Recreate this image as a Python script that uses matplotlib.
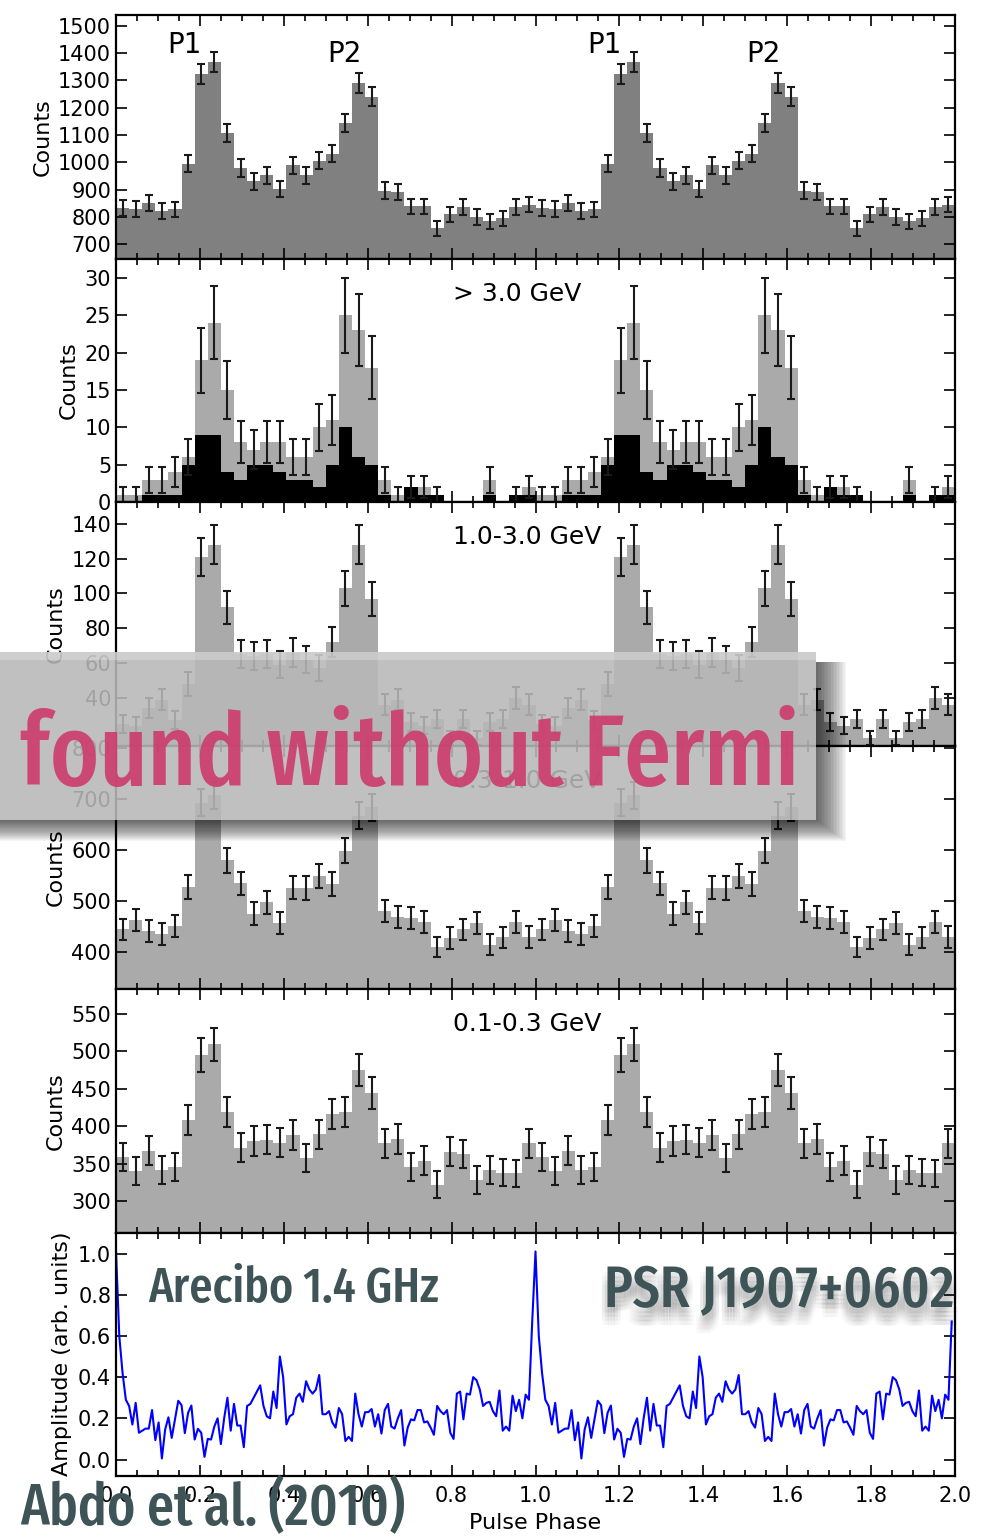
import os
import numpy as np
import matplotlib
matplotlib.use('Agg')
import matplotlib.pyplot as plt
from matplotlib import font_manager as fm
from matplotlib import patheffects as pe
from matplotlib.patches import Rectangle, Polygon
from matplotlib.ticker import MultipleLocator

# 32 phase bins per rotation, the plot shows two rotations
n_bins = 32

# counts per bin
counts_all = [833, 828, 849, 821, 827, 994, 1323, 1368, 1107, 979, 930, 952, 902, 989, 952, 1006,
              1032, 1144, 1291, 1241, 896, 892, 838, 838, 758, 809, 835, 799, 784, 794, 837, 845]
counts_gt3 = [1, 1, 3, 3, 4, 6, 19, 24, 15, 8, 7, 8, 8, 6, 6, 10,
              11, 25, 23, 18, 3, 1, 2, 2, 1, 0, 0, 0, 3, 0, 1, 2]
counts_gt3_black = [0, 0, 1, 1, 1, 5, 9, 9, 4, 3, 5, 5, 4, 3, 3, 2,
                    5, 10, 6, 5, 1, 0, 2, 1, 1, 0, 0, 0, 1, 0, 1, 1]
counts_1_3 = [25, 24, 34, 39, 27, 48, 121, 128, 92, 65, 64, 65, 59, 66, 62, 57,
              72, 103, 128, 97, 36, 39, 26, 24, 28, 17, 28, 17, 26, 28, 40, 36]
counts_03_1 = [444, 463, 441, 435, 450, 527, 692, 707, 579, 534, 475, 497, 457, 526, 525, 549,
               533, 598, 667, 683, 480, 468, 466, 458, 409, 427, 444, 456, 414, 428, 459, 429]
counts_01_03 = [359, 340, 367, 341, 345, 408, 495, 509, 419, 371, 380, 382, 378, 388, 357, 389,
                416, 419, 475, 444, 377, 383, 345, 354, 322, 366, 363, 328, 341, 338, 337, 377]

# Arecibo 1.4 GHz profile, 128 samples per rotation
radio_amp = [1.01, 0.60, 0.42, 0.29, 0.26, 0.17, 0.275, 0.13, 0.14, 0.15,
             0.15, 0.24, 0.094, 0.18, 0.005, 0.146, 0.205, 0.105, 0.194, 0.285,
             0.264, 0.128, 0.227, 0.262, 0.097, 0.149, 0.13, 0.013, 0.10, 0.097,
             0.16, 0.20, 0.075, 0.20, 0.30, 0.14, 0.27, 0.165, 0.165, 0.06,
             0.26, 0.27, 0.30, 0.33, 0.36, 0.26, 0.21, 0.20, 0.33, 0.25,
             0.50, 0.40, 0.17, 0.21, 0.22, 0.30, 0.32, 0.28, 0.38, 0.34,
             0.32, 0.34, 0.41, 0.22, 0.22, 0.235, 0.18, 0.155, 0.25, 0.22,
             0.09, 0.11, 0.09, 0.32, 0.22, 0.16, 0.23, 0.23, 0.245, 0.16,
             0.22, 0.126, 0.24, 0.27, 0.16, 0.15, 0.20, 0.24, 0.068, 0.155,
             0.195, 0.19, 0.24, 0.24, 0.18, 0.185, 0.155, 0.12, 0.26, 0.235,
             0.22, 0.24, 0.13, 0.10, 0.32, 0.33, 0.195, 0.32, 0.315, 0.40,
             0.385, 0.34, 0.26, 0.275, 0.28, 0.235, 0.21, 0.335, 0.14, 0.16,
             0.14, 0.31, 0.235, 0.29, 0.20, 0.315, 0.29, 0.67]

band_labels = ['', '> 3.0 GeV', '1.0-3.0 GeV', '0.3-1.0 GeV', '0.1-0.3 GeV']
peak_labels = ['P1', 'P2', 'P1', 'P2']
peak_phase = [0.164, 0.544, 1.164, 1.544]
peak_y = [1400, 1369, 1400, 1369]

W, H = 985, 1537
plt.rcParams['font.family'] = 'DejaVu Sans'
fig = plt.figure(figsize=(W / 100, H / 100), dpi=100)

edges = np.arange(2 * n_bins + 1) / n_bins
centers = (edges[:-1] + edges[1:]) / 2

# panel geometry in pixels
ax_left, ax_right, ax_top, ax_bot = 116, 955, 15, 1476
ph = (ax_bot - ax_top) / 6
axes = []
for k in range(6):
    y0 = 1 - (ax_top + (k + 1) * ph) / H
    ax = fig.add_axes([ax_left / W, y0, (ax_right - ax_left) / W, ph / H])
    axes.append(ax)

hist_sets = [counts_all, counts_gt3, counts_1_3, counts_03_1, counts_01_03]
ylims = [(647, 1540), (0, 32.6), (12.6, 152.6), (327, 804.5), (258, 583)]
ysteps = [100, 5, 20, 100, 50]
bar_cols = ['#808080', '#aaaaaa', '#aaaaaa', '#aaaaaa', '#aaaaaa']

for k, ax in enumerate(axes[:5]):
    vals = np.tile(np.array(hist_sets[k], dtype=float), 2)
    ax.stairs(vals, edges, fill=True, color=bar_cols[k], baseline=0, lw=0)
    if k == 1:
        blk = np.tile(np.array(counts_gt3_black, dtype=float), 2)
        ax.stairs(blk, edges, fill=True, color='black', baseline=0, lw=0)
    m = vals > 0
    ax.errorbar(centers[m], vals[m], yerr=np.sqrt(vals[m]), fmt='none',
                ecolor='#1a1a1a', elinewidth=1.5, capsize=3.2, capthick=1.5)
    ax.set_ylim(*ylims[k])
    ax.yaxis.set_major_locator(MultipleLocator(ysteps[k]))
    ax.set_ylabel('Counts', fontsize=16)
    if band_labels[k]:
        ax.text(0.402, 0.856, band_labels[k], transform=ax.transAxes,
                ha='left', va='center', fontsize=18)

# lowest tick of the 1.0-3.0 GeV panel sits under the next panel's top label
axes[2].set_yticks(np.arange(40, 141, 20))

for lab, x, y in zip(peak_labels, peak_phase, peak_y):
    axes[0].text(x, y, lab, ha='center', va='baseline', fontsize=20)

# radio profile
rad = axes[5]
phase = np.arange(2 * len(radio_amp)) / len(radio_amp)
rad.plot(phase, np.tile(radio_amp, 2), color='blue', lw=1.5)
rad.set_ylim(-0.08, 1.102)
rad.yaxis.set_major_locator(MultipleLocator(0.2))
rad.set_ylabel('Amplitude (arb. units)', fontsize=16)
rad.set_xlabel('Pulse Phase', fontsize=16, labelpad=5)

for k, ax in enumerate(axes):
    ax.set_xlim(0, 2)
    ax.xaxis.set_major_locator(MultipleLocator(0.2))
    ax.xaxis.set_minor_locator(MultipleLocator(0.05))
    ax.tick_params(which='both', direction='in', top=True, right=True, width=1.2)
    ax.tick_params(which='major', length=8, labelsize=15)
    ax.tick_params(which='minor', length=4)
    for s in ax.spines.values():
        s.set_linewidth(1.6)
    if k < 5:
        ax.tick_params(labelbottom=False)
rad.tick_params(axis='x', pad=7)

# ---- overlay graphics drawn in pixel coordinates ----
ov = fig.add_axes([0, 0, 1, 1])
ov.set_zorder(20)
ov.set_xlim(0, W)
ov.set_ylim(H, 0)
ov.axis('off')


def pick_condensed():
    best, best_score = None, -1
    for f in fm.fontManager.ttflist:
        fn = os.path.basename(f.fname).lower()
        nm = f.name.lower()
        key = (fn + ' ' + nm).replace(' ', '')
        if 'italic' in key or 'oblique' in key:
            continue
        if 'extracondensed' in key:
            cs = 3
        elif 'semicondensed' in key:
            cs = 1
        elif 'condensed' in key or 'narrow' in key:
            cs = 2
        else:
            continue
        w = f.weight
        if isinstance(w, str):
            w = fm.weight_dict.get(w, 400)
        ws = {500: 3, 400: 2.5, 600: 2, 700: 1.5}.get(w, 1)
        score = cs * 10 + ws
        if score > best_score:
            best, best_score = f.fname, score
    return best


cfont = pick_condensed()
if cfont:
    fprop = fm.FontProperties(fname=cfont)
else:
    fprop = fm.FontProperties(family='DejaVu Sans', weight='bold')

renderer = fig.canvas.get_renderer()


def fit_width(t, width_px):
    bb = t.get_window_extent(renderer)
    t.set_fontsize(t.get_fontsize() * width_px / bb.width)


# soft L-shaped shadow to the right of and below the grey banner
bx0, by0, bx1, by1 = 0, 652, 816, 820
for i in range(1, 21):
    g = 1.5 * i
    ov.add_patch(Polygon([(bx1, by0 + 10), (bx1 + g, by0 + 10), (bx1 + g, by1 + g * 0.7),
                          (bx0, by1 + g * 0.7), (bx0, by1), (bx1, by1)],
                         closed=True, facecolor='black', alpha=0.04, lw=0))
ov.add_patch(Rectangle((bx0, by0), bx1 - bx0, by1 - by0, facecolor='#b8b8b8', alpha=0.88, lw=0))
ov.add_patch(Rectangle((bx0, by0), bx1 - bx0, 8, facecolor='white', alpha=0.25, lw=0))

slate = '#3e5457'
t1 = ov.text(20, 785, 'found without Fermi', fontproperties=fprop, fontsize=60,
             color='#cd3b6c', alpha=0.9, ha='left', va='baseline')
fit_width(t1, 780)

t2 = ov.text(148, 1302, 'Arecibo 1.4 GHz', fontproperties=fprop, fontsize=30,
             color=slate, ha='left', va='baseline')
fit_width(t2, 290)

shadow = []
for dx in (-4, -2, 0, 2, 4):
    for dy in (-4, -7, -10, -13):
        shadow.append(pe.SimplePatchShadow(offset=(dx, dy), shadow_rgbFace='black', alpha=0.018))
shadow.append(pe.Normal())
t3 = ov.text(604, 1307, 'PSR J1907+0602', fontproperties=fprop, fontsize=30,
             color=slate, ha='left', va='baseline', path_effects=shadow)
fit_width(t3, 350)

t4 = ov.text(20, 1479, 'Abdo et al. (2010)', fontproperties=fprop, fontsize=40,
             color=slate, ha='left', va='top')
fit_width(t4, 385)

fig.savefig('out.png', dpi=100)
